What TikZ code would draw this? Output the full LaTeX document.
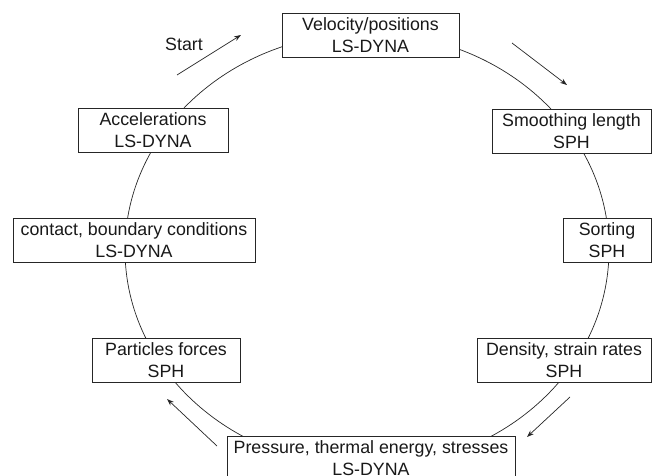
\documentclass[tikz,border=0pt]{standalone}
\usepackage{fontspec}
\setmainfont{Liberation Sans}
\usetikzlibrary{shapes.geometric, arrows.meta, positioning}

\begin{document}
\begin{tikzpicture}[
  x=1pt, y=-1pt,
  box/.style={draw=black!85, line width=0.7pt, fill=white, align=center, minimum height=44pt, inner sep=2pt, text=black!90, font=\fontsize{17.8}{22}\selectfont},
  ring/.style={ellipse, draw=black!85, line width=0.7pt, minimum width=484pt, minimum height=434pt, inner sep=0pt},
  arrow/.style={draw=black!85, line width=0.7pt, ->, >={Stealth[length=7pt,width=5pt]}}
]
\useasboundingbox (0,0) rectangle (654,476);

\node[ring] (loop) at (367,250) {};

\node[box, minimum width=177pt] (vel) at (370.5,35) {Velocity/positions\\LS-DYNA};
\node[box, minimum width=159pt] (smooth) at (571.5,131) {Smoothing length\\SPH};
\node[box, minimum width=88pt] (sort) at (607,240) {Sorting\\SPH};
\node[box, minimum width=174pt] (dens) at (564,360) {Density, strain rates\\SPH};
\node[box, minimum width=288pt] (press) at (371,458) {Pressure, thermal energy, stresses\\LS-DYNA};
\node[box, minimum width=148pt] (part) at (166,360) {Particles forces\\SPH};
\node[box, minimum width=242pt] (contact) at (134,240) {contact, boundary conditions\\LS-DYNA};
\node[box, minimum width=150pt] (acc) at (153,130.5) {Accelerations\\LS-DYNA};

\node[text=black!90, font=\fontsize{17.8}{22}\selectfont] (start) at (184,44) {Start};

% direction marks
\coordinate (s1) at (177,75);
\coordinate (s2) at (241,35);
\coordinate (r1) at (512,43);
\coordinate (r2) at (567,85);
\coordinate (b1) at (570,397);
\coordinate (b2) at (527,437);
\coordinate (l1) at (217,446);
\coordinate (l2) at (167,399);

\draw[arrow] (s1) -- (s2);
\draw[arrow] (r1) -- (r2);
\draw[arrow] (b1) -- (b2);
\draw[arrow] (l1) -- (l2);

\end{tikzpicture}
\end{document}
